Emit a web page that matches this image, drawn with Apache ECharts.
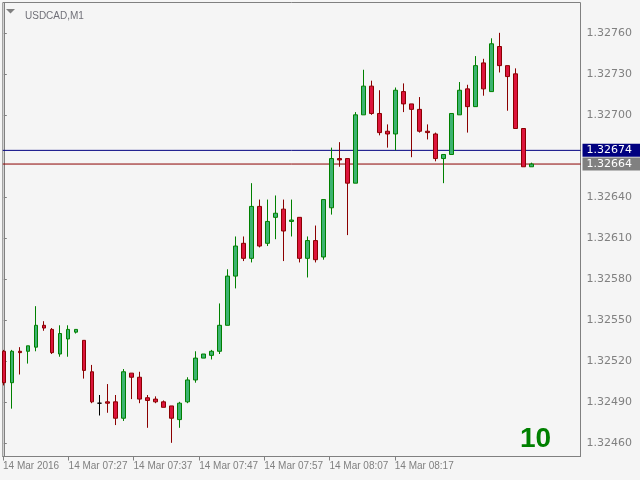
<!DOCTYPE html>
<html><head><meta charset="utf-8">
<script src="https://cdn.jsdelivr.net/npm/echarts@6/dist/echarts.min.js"></script>
<style>html,body{margin:0;padding:0;background:#f5f5f5}#c{width:640px;height:480px}</style>
</head><body><div id="c"></div>
<script>
const symbolName = 'USDCAD,M1';
const opens  = [1.32527,1.32504,1.32527,1.32527,1.32530,1.32546,1.32543,1.32525,1.32536,1.32541,
                1.32535,1.32512,1.32489,1.32490,1.32490,1.32478,1.32511,1.32508,1.32493,1.32492,
                1.32490,1.32487,1.32477,1.32490,1.32506,1.32522,1.32524,1.32527,1.32546,1.32582,
                1.32606,1.32595,1.32633,1.32606,1.32625,1.32631,1.32622,1.32625,1.32595,1.32608,
                1.32596,1.32632,1.32668,1.32668,1.32650,1.32700,1.32721,1.32701,1.32688,1.32686,
                1.32717,1.32708,1.32704,1.32688,1.32686,1.32668,1.32671,1.32700,1.32719,1.32706,
                1.32738,1.32717,1.32750,1.32736,1.32730,1.32690,1.32662];
const closes = [1.32504,1.32527,1.32526,1.32531,1.32546,1.32544,1.32526,1.32540,1.32543,1.32543,
                1.32513,1.32490,1.32489,1.32489,1.32478,1.32512,1.32508,1.32492,1.32491,1.32490,
                1.32486,1.32478,1.32489,1.32506,1.32522,1.32525,1.32527,1.32546,1.32582,1.32604,
                1.32595,1.32633,1.32604,1.32622,1.32628,1.32615,1.32623,1.32595,1.32608,1.32594,
                1.32638,1.32668,1.32667,1.32650,1.32700,1.32721,1.32701,1.32687,1.32686,1.32718,
                1.32708,1.32704,1.32688,1.32687,1.32668,1.32671,1.32701,1.32718,1.32706,1.32736,
                1.32719,1.32752,1.32736,1.32728,1.32690,1.32662,1.32664];
const lows   = [1.32502,1.32485,1.32510,1.32518,1.32527,1.32542,1.32525,1.32523,1.32523,1.32540,
                1.32507,1.32489,1.32480,1.32482,1.32473,1.32476,1.32492,1.32489,1.32471,1.32489,
                1.32486,1.32460,1.32471,1.32489,1.32504,1.32522,1.32521,1.32525,1.32546,1.32573,
                1.32593,1.32592,1.32603,1.32604,1.32609,1.32593,1.32611,1.32592,1.32581,1.32592,
                1.32594,1.32627,1.32662,1.32612,1.32650,1.32700,1.32700,1.32685,1.32676,1.32674,
                1.32702,1.32669,1.32687,1.32682,1.32666,1.32650,1.32671,1.32700,1.32687,1.32706,
                1.32714,1.32717,1.32731,1.32703,1.32690,1.32662,1.32662];
const highs  = [1.32528,1.32528,1.32530,1.32531,1.32560,1.32549,1.32544,1.32546,1.32546,1.32543,
                1.32535,1.32517,1.32495,1.32503,1.32495,1.32514,1.32511,1.32512,1.32495,1.32494,
                1.32491,1.32487,1.32490,1.32508,1.32527,1.32525,1.32528,1.32562,1.32587,1.32611,
                1.32611,1.32650,1.32638,1.32638,1.32641,1.32638,1.32638,1.32625,1.32611,1.32619,
                1.32638,1.32676,1.32680,1.32668,1.32702,1.32733,1.32725,1.32718,1.32693,1.32720,
                1.32723,1.32708,1.32713,1.32693,1.32687,1.32671,1.32701,1.32724,1.32722,1.32743,
                1.32741,1.32756,1.32760,1.32736,1.32734,1.32690,1.32665];
const timeLabels = ['14 Mar 2016','14 Mar 07:27','14 Mar 07:37','14 Mar 07:47','14 Mar 07:57','14 Mar 08:07','14 Mar 08:17'];
const timeLabelBars = [-0.1, 8.1, 16.22, 24.44, 32.56, 40.73, 48.9];
const priceTicks = [1.3246,1.3249,1.3252,1.3255,1.3258,1.3261,1.3264,1.3270,1.3273,1.3276];
const levelLine = 1.32674;
const bidLine = 1.32664;
const counterText = '10';

const X_MIN = -0.125, X_MAX = 72.125;
const Y_MIN = 1.32450, Y_MAX = 1.327822;

const candleData = opens.map((o, i) => [i, o, closes[i], lows[i], highs[i]]);

function hLine(val, lineColor, boxColor) {
  return {
    type: 'line', silent: true, symbol: 'none', z: 1,
    data: [[X_MIN, val], [X_MAX, val]],
    lineStyle: {color: lineColor, width: 1, type: 'solid'},
    emphasis: {disabled: true},
    endLabel: {
      show: true, distance: 2, formatter: () => val.toFixed(5),
      color: '#ffffff', backgroundColor: boxColor, padding: [1, 10, 1, 4],
      fontFamily: 'DejaVu Sans', fontSize: 11, lineHeight: 11
    }
  };
}

const chart = echarts.init(document.getElementById('c'), null, {renderer: 'canvas'});
chart.setOption({
  animation: false,
  backgroundColor: '#f5f5f5',
  title: {
    text: symbolName, left: 20, top: 6,
    textStyle: {fontFamily: 'Liberation Sans', fontSize: 10, fontWeight: 'normal', color: '#707078'}
  },
  grid: {
    left: 2.5, top: 2.5, right: 59.5, bottom: 23.5,
    show: true, borderColor: '#808080', borderWidth: 1, backgroundColor: 'transparent'
  },
  xAxis: {
    type: 'value', min: X_MIN, max: X_MAX,
    axisLine: {show: true, lineStyle: {color: '#808080'}},
    splitLine: {show: false},
    axisTick: {show: true, length: 4, lineStyle: {color: '#808080'}, customValues: timeLabelBars},
    axisLabel: {
      customValues: timeLabelBars, align: 'left', margin: 5,
      color: '#808080', fontFamily: 'Liberation Sans', fontSize: 10,
      formatter: function (v) {
        let best = 0;
        for (let i = 1; i < timeLabelBars.length; i++) {
          if (Math.abs(timeLabelBars[i] - v) < Math.abs(timeLabelBars[best] - v)) best = i;
        }
        return timeLabels[best];
      }
    }
  },
  yAxis: {
    type: 'value', position: 'right', min: Y_MIN, max: Y_MAX,
    axisLine: {show: true, lineStyle: {color: '#808080'}},
    splitLine: {show: false},
    axisTick: {show: true, length: 3, lineStyle: {color: '#808080'}, customValues: priceTicks},
    axisLabel: {
      customValues: priceTicks, margin: 6,
      color: '#808080', fontFamily: 'DejaVu Sans', fontSize: 11,
      formatter: v => v.toFixed(5)
    }
  },
  series: [
    hLine(levelLine, '#000080', '#000080'),
    hLine(bidLine, '#8b0000', '#808080'),
    {
      type: 'candlestick', z: 2,
      data: candleData,
      dimensions: ['idx', 'open', 'close', 'lowest', 'highest'],
      encode: {x: 0, y: [1, 2, 3, 4]},
      barWidth: 4,
      itemStyle: {
        color: '#3cb371', color0: '#dc143c',
        borderColor: '#008000', borderColor0: '#8b0000',
        borderColorDoji: '#000000', borderWidth: 1
      }
    }
  ],
  graphic: [
    {type: 'polygon', shape: {points: [[6, 9], [15, 9], [10.5, 13.5]]}, style: {fill: '#808080'}},
    {type: 'text', left: 520, top: 425,
     style: {text: counterText, font: 'bold 28px "Liberation Sans", Arial, sans-serif', fill: '#008000'}}
  ]
});
</script></body></html>
